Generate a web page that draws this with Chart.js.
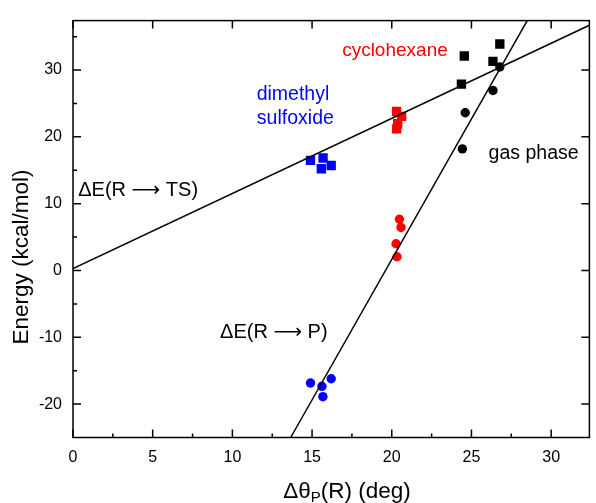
<!DOCTYPE html>
<html><head><meta charset="utf-8">
<script src="https://cdn.jsdelivr.net/npm/chart.js@4"></script>
<style>html,body{margin:0;padding:0;background:#fff;}#wrap{width:596px;height:503px;}</style>
</head><body><div id="wrap"><canvas id="c" width="596" height="503"></canvas></div>
<script>
// ---- data ----
const xTicks = [0, 5, 10, 15, 20, 25, 30];
const yTicks = [-20, -10, 0, 10, 20, 30];
const xMinor = [2.5, 7.5, 12.5, 17.5, 22.5, 27.5];
const yMinor = [-15, -5, 5, 15, 25, 35];

// dE(R -> TS) : squares
const tsDmsoX = [14.90, 15.69, 15.58, 16.20];
const tsDmsoY = [16.49, 16.84, 15.23, 15.71];
const tsCyclX = [20.30, 20.62, 20.37, 20.31];
const tsCyclY = [23.80, 23.07, 21.96, 21.20];
const tsGasX  = [26.78, 24.55, 26.35, 24.37];
const tsGasY  = [33.90, 32.10, 31.30, 27.90];

// dE(R -> P) : circles
const pDmsoX = [14.90, 15.62, 16.20, 15.68];
const pDmsoY = [-16.84, -17.34, -16.21, -18.89];
const pCyclX = [20.48, 20.58, 20.27, 20.33];
const pCyclY = [7.66, 6.44, 4.00, 2.05];
const pGasX  = [26.78, 26.35, 24.61, 24.43];
const pGasY  = [30.45, 26.94, 23.60, 18.20];

// fitted lines (end points)
const tsLineX = [0, 32.4];
const tsLineY = [0.3, 36.7];
const pLineX  = [13.66, 28.5];
const pLineY  = [-25, 37.4];

const xRange = [0, 32.4];
const yRange = [-25, 37.4];

const FONT = '"Liberation Sans", Arial, sans-serif';
const ARROWFONT = '"DejaVu Sans", sans-serif';
const pts = (xs, ys) => xs.map((x, i) => ({x: x, y: ys[i]}));

const labels = [
  {parts: [['ΔE(R ', FONT], ['⟶', ARROWFONT], [' TS)', FONT]], x: 0.33, y: 11.95, color: '#000', align: 'left', size: 20},
  {parts: [['ΔE(R ', FONT], ['⟶', ARROWFONT], [' P)', FONT]], x: 12.6, y: -9.3, color: '#000', align: 'center', size: 20},
  {parts: [['dimethyl', FONT]], x: 13.8, y: 26.3, color: '#0000ff', align: 'center', size: 19.5},
  {parts: [['sulfoxide', FONT]], x: 13.95, y: 22.7, color: '#0000ff', align: 'center', size: 19.5},
  {parts: [['cyclohexane', FONT]], x: 20.2, y: 32.9, color: '#ff0000', align: 'center', size: 19},
  {parts: [['gas phase', FONT]], x: 28.9, y: 17.55, color: '#000', align: 'center', size: 19.5}
];

const framePlugin = {
  id: 'frame',
  afterDraw(chart) {
    const ctx = chart.ctx, a = chart.chartArea;
    const xs = chart.scales.x, ys = chart.scales.y;
    ctx.save();
    ctx.strokeStyle = '#000';
    ctx.lineWidth = 1.5;
    ctx.strokeRect(a.left, a.top, a.right - a.left, a.bottom - a.top);
    ctx.beginPath();
    const MJ = 8, MN = 4;
    xTicks.forEach(v => {
      const p = xs.getPixelForValue(v);
      ctx.moveTo(p, a.bottom); ctx.lineTo(p, a.bottom - MJ);
      ctx.moveTo(p, a.top); ctx.lineTo(p, a.top + MJ);
    });
    xMinor.forEach(v => {
      const p = xs.getPixelForValue(v);
      ctx.moveTo(p, a.bottom); ctx.lineTo(p, a.bottom - MN);
    });
    yTicks.forEach(v => {
      const p = ys.getPixelForValue(v);
      ctx.moveTo(a.left, p); ctx.lineTo(a.left + MJ, p);
      ctx.moveTo(a.right, p); ctx.lineTo(a.right - MJ, p);
    });
    yMinor.forEach(v => {
      if (v > yRange[1]) return;
      const p = ys.getPixelForValue(v);
      ctx.moveTo(a.left, p); ctx.lineTo(a.left + MN, p);
    });
    ctx.stroke();

    // annotations
    ctx.textBaseline = 'middle';
    ctx.textAlign = 'left';
    labels.forEach(l => {
      ctx.fillStyle = l.color;
      const widths = l.parts.map(p => { ctx.font = l.size + 'px ' + p[1]; return ctx.measureText(p[0]).width; });
      const total = widths.reduce((s, w) => s + w, 0);
      let px = xs.getPixelForValue(l.x);
      if (l.align === 'center') px -= total / 2;
      const py = ys.getPixelForValue(l.y);
      l.parts.forEach((p, i) => {
        ctx.font = l.size + 'px ' + p[1];
        ctx.fillText(p[0], px, py);
        px += widths[i];
      });
    });

    // x title with subscript
    ctx.fillStyle = '#000';
    ctx.textAlign = 'left';
    ctx.textBaseline = 'alphabetic';
    const big = '22.5px ' + FONT, small = '15px ' + FONT;
    const t1 = 'Δθ', t2 = 'P', t3 = '(R) (deg)';
    ctx.font = big; const w1 = ctx.measureText(t1).width, w3 = ctx.measureText(t3).width;
    ctx.font = small; const w2 = ctx.measureText(t2).width;
    const total = w1 + w2 + w3;
    let x0 = 347 - total / 2;
    const base = 498;
    ctx.font = big; ctx.fillText(t1, x0, base);
    ctx.font = small; ctx.fillText(t2, x0 + w1, base + 4);
    ctx.font = big; ctx.fillText(t3, x0 + w1 + w2, base);

    // y title
    ctx.save();
    ctx.translate(22, 257);
    ctx.rotate(-Math.PI / 2);
    ctx.textAlign = 'center';
    ctx.textBaseline = 'middle';
    ctx.font = big;
    ctx.fillText('Energy (kcal/mol)', 0, 0);
    ctx.restore();
    ctx.restore();
  }
};

const lineDs = (xs, ys) => ({
  type: 'line', data: pts(xs, ys), borderColor: '#000', borderWidth: 1.5,
  pointRadius: 0, fill: false, showLine: true, tension: 0
});
const ptDs = (xs, ys, color, style) => ({
  data: pts(xs, ys), backgroundColor: color, borderColor: color, borderWidth: 0,
  pointStyle: style, pointRadius: style === 'rect' ? 6.6 : 4.7, showLine: false
});

new Chart(document.getElementById('c'), {
  type: 'scatter',
  data: {
    datasets: [
      lineDs(tsLineX, tsLineY),
      lineDs(pLineX, pLineY),
      ptDs(tsDmsoX, tsDmsoY, '#0000ff', 'rect'),
      ptDs(tsCyclX, tsCyclY, '#ff0000', 'rect'),
      ptDs(tsGasX, tsGasY, '#000000', 'rect'),
      ptDs(pDmsoX, pDmsoY, '#0000ff', 'circle'),
      ptDs(pCyclX, pCyclY, '#ff0000', 'circle'),
      ptDs(pGasX, pGasY, '#000000', 'circle')
    ]
  },
  options: {
    responsive: false,
    animation: false,
    devicePixelRatio: 1,
    layout: {padding: {top: 13, right: 1, left: 0, bottom: 0}},
    plugins: {legend: {display: false}, tooltip: {enabled: false}},
    scales: {
      x: {
        type: 'linear', min: xRange[0], max: xRange[1],
        afterBuildTicks: s => { s.ticks = xTicks.map(v => ({value: v})); },
        afterFit: s => { s.height = 65.5; },
        grid: {display: false, drawTicks: false},
        border: {display: false},
        ticks: {color: '#000', font: {family: FONT, size: 16}, padding: 10, autoSkip: false, maxRotation: 0}
      },
      y: {
        type: 'linear', min: yRange[0], max: yRange[1],
        afterBuildTicks: s => { s.ticks = yTicks.map(v => ({value: v})); },
        afterFit: s => { s.width = 73; },
        grid: {display: false, drawTicks: false},
        border: {display: false},
        ticks: {color: '#000', font: {family: FONT, size: 16}, padding: 11, autoSkip: false}
      }
    }
  },
  plugins: [framePlugin]
});
</script>
</body></html>
